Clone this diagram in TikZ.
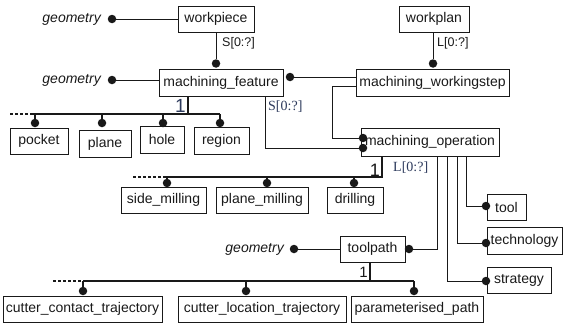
\documentclass[tikz,border=0pt]{standalone}
\usepackage{fontspec}
\setmainfont{Liberation Sans}
\newfontfamily\labserif{Liberation Serif}
\definecolor{labblue}{RGB}{45,58,92}
\definecolor{ink}{RGB}{25,25,25}
\begin{document}
\begin{tikzpicture}[x=1pt,y=-1pt,
  box/.style={draw=ink, line width=0.9pt, inner sep=0pt, text=ink, font=\fontsize{14}{16}\selectfont, anchor=center},
  dot/.style={circle, fill=ink, inner sep=0pt, minimum size=8.5pt},
  conn/.style={draw=ink, line width=0.9pt},
  bar/.style={draw=ink, line width=1.7pt},
  dashbar/.style={draw=ink, line width=1.7pt, dash pattern=on 3pt off 2pt},
  geo/.style={font=\fontsize{14}{16}\selectfont\itshape, text=ink, anchor=east, inner sep=0pt},
  card/.style={font=\fontsize{12.5}{14}\selectfont, text=ink, anchor=west, inner sep=0pt},
  cardser/.style={font=\fontsize{14}{15}\labserif, text=labblue, anchor=west, inner sep=0pt},
  one/.style={text=ink, anchor=east, inner sep=0pt}]
\useasboundingbox (0,0) rectangle (563,324);

% boxes
\node[box, minimum width=76pt, minimum height=26pt] (wp) at (216,19) {workpiece};
\node[box, minimum width=70pt, minimum height=26pt] (wpl) at (434,19) {workplan};
\node[box, minimum width=124pt, minimum height=27pt] (mf) at (221,82.5) {machining\_feature};
\node[box, minimum width=153pt, minimum height=27pt] (mws) at (432.5,82.5) {machining\_workingstep};
\node[box, minimum width=58pt, minimum height=26pt] (pk) at (39,141) {pocket};
\node[box, minimum width=52pt, minimum height=27pt] (pl) at (105,143.5) {plane};
\node[box, minimum width=44pt, minimum height=27pt] (ho) at (162,139.5) {hole};
\node[box, minimum width=55pt, minimum height=27pt] (re) at (221.5,140.5) {region};
\node[box, minimum width=138pt, minimum height=28pt] (mo) at (430,142) {machining\_operation};
\node[box, minimum width=85pt, minimum height=26pt] (sm) at (163.5,200) {side\_milling};
\node[box, minimum width=92pt, minimum height=26pt] (pm) at (262,200) {plane\_milling};
\node[box, minimum width=56pt, minimum height=26pt] (dr) at (355,200) {drilling};
\node[box, minimum width=39pt, minimum height=26pt] (to) at (506.5,207) {tool};
\node[box, minimum width=75pt, minimum height=27pt] (te) at (524.5,240.5) {technology};
\node[box, minimum width=64pt, minimum height=26pt] (st) at (519,280) {strategy};
\node[box, minimum width=65pt, minimum height=26pt] (tp) at (372.5,249) {toolpath};
\node[box, minimum width=159pt, minimum height=26pt] (cc) at (82.5,309) {cutter\_contact\_trajectory};
\node[box, minimum width=168pt, minimum height=26pt] (cl) at (262,309) {cutter\_location\_trajectory};
\node[box, minimum width=132pt, minimum height=26pt] (pp) at (417,309) {parameterised\_path};

% geometry attributes
\node[geo] (g1) at (101,19) {geometry};
\node[dot] (dg1) at (112,19) {};
\draw[conn] (dg1) -- (dg1 -| wp.west);
\node[geo] (g2) at (101,80) {geometry};
\node[dot] (dg2) at (112,80) {};
\draw[conn] (dg2) -- (dg2 -| mf.west);
\node[geo] (g3) at (284,249) {geometry};
\node[dot] (dg3) at (294,249) {};
\draw[conn] (dg3) -- (dg3 -| tp.west);

% workpiece -> machining_feature
\node[dot] (dmf) at (216,63.5) {};
\draw[conn] (wp.south) -- (dmf);
\node[card] (s1) at (222,43) {S[0:?]};
% workplan -> machining_workingstep
\node[dot] (dws) at (433,63.5) {};
\draw[conn] (dws |- wpl.south) -- (dws);
\node[card] (l1) at (437,43) {L[0:?]};
% machining_feature dot -> machining_workingstep
\node[dot] (dmfr) at (290,77) {};
\draw[conn] (dmfr) -- (dmfr -| mws.west);

% feature tree
\coordinate (fb) at (188,114);
\coordinate (fbl) at (33,114);
\coordinate (fbd) at (10,114);
\node[dot] (dpk) at (35,123) {};
\node[dot] (dpl) at (102,123) {};
\node[dot] (dho) at (163,123) {};
\node[dot] (dre) at (220,123) {};
\draw[bar] (fb |- mf.south) -- (fb);
\draw[bar] (fbl) -- (dre.center |- fb);
\draw[dashbar] (fbd) -- (fbl);
\foreach \d in {dpk,dpl,dho,dre} \draw[bar] (\d.center) -- (\d.center |- fb);
\node[one, font=\fontsize{19}{20}\selectfont, text=labblue] (o1) at (186,106) {1};

% machining_feature -> machining_operation
\node[dot] (dmo1) at (363,138) {};
\node[dot] (dmo2) at (363,148) {};
\coordinate (c1) at (265,148);
\draw[conn] (c1 |- mf.south) -- (c1) -- (dmo2);
\node[cardser] (s2) at (268,107) {S[0:?]};
\coordinate (c2) at (332,86);
\draw[conn] (c2 -| mws.west) -- (c2) -- (c2 |- dmo1) -- (dmo1);

% operation tree
\coordinate (ob) at (382,177);
\coordinate (obl) at (165,177);
\coordinate (obd) at (133,177);
\node[dot] (dsm) at (167,183) {};
\node[dot] (dpm) at (267,183) {};
\node[dot] (ddr) at (354,183) {};
\draw[bar] (ob |- mo.south) -- (ob) -- (obl);
\draw[dashbar] (obd) -- (obl);
\foreach \d in {dsm,dpm,ddr} \draw[bar] (\d.center) -- (\d.center |- ob);
\node[one, font=\fontsize{18}{20}\selectfont] (o2) at (380,170) {1};
\node[cardser] (l2) at (393,168) {L[0:?]};

% operation attributes
\node[dot] (dtp) at (409,249) {};
\node[dot] (dto) at (486,206) {};
\node[dot] (dte) at (486,243) {};
\node[dot] (dst) at (486,281) {};
\coordinate (t1) at (437,249);
\coordinate (t2) at (447,281);
\coordinate (t3) at (457,243);
\coordinate (t4) at (466,206);
\draw[conn] (t1 |- mo.south) -- (t1) -- (dtp);
\draw[conn] (t2 |- mo.south) -- (t2) -- (dst);
\draw[conn] (t3 |- mo.south) -- (t3) -- (dte);
\draw[conn] (t4 |- mo.south) -- (t4) -- (dto);

% toolpath tree
\coordinate (tb) at (370,281);
\coordinate (tbd) at (53,281);
\node[dot] (dcc) at (83,291) {};
\node[dot] (dcl) at (246,291) {};
\node[dot] (dpp) at (414,291) {};
\draw[bar] (tb |- tp.south) -- (tb);
\draw[bar] (dcc.center |- tb) -- (dpp.center |- tb);
\draw[dashbar] (tbd) -- (dcc.center |- tb);
\foreach \d in {dcc,dcl,dpp} \draw[bar] (\d.center) -- (\d.center |- tb);
\node[one, font=\fontsize{15}{16}\selectfont] (o3) at (368,272) {1};
\end{tikzpicture}
\end{document}
